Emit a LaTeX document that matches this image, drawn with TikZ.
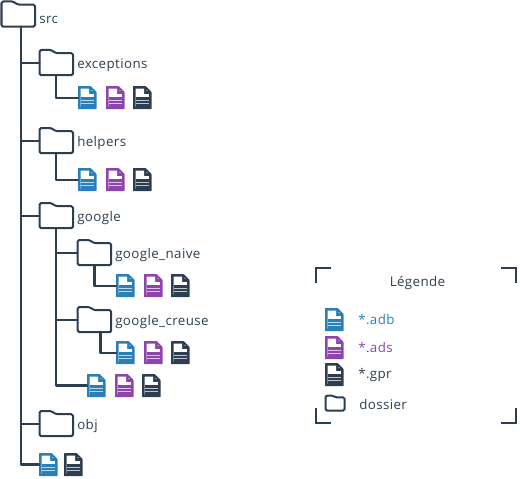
\documentclass[tikz,border=0pt]{standalone}
\usepackage{fontspec}
\setmainfont{Open Sans}[LetterSpace=3]
\definecolor{ink}{HTML}{2C3E50}
\definecolor{blu}{HTML}{2980B9}
\definecolor{pur}{HTML}{8E44AD}
\tikzset{
  conn/.style={draw=ink,line width=1.8pt,line cap=round,line join=round},
  branch/.style={draw=ink,line width=1.6pt,line cap=round,line join=round},
  folderbox/.style={inner sep=0pt,minimum width=24.75pt,minimum height=18.5pt,anchor=north west},
  legfolder/.style={inner sep=0pt,minimum width=14pt,minimum height=11pt,anchor=north west},
  filebox/.style={inner sep=0pt,minimum width=13.5pt,minimum height=17pt,anchor=north west},
  lab/.style={inner sep=0pt,anchor=west,text=ink,font=\fontsize{10pt}{11pt}\selectfont},
  crop/.style={draw=ink,line width=1.4pt}
}
\newcommand{\folderat}[5][folderbox]{%
  \node[#1] (#4) at (#2,#3) {};
  \draw[draw=ink,line width=1.5pt,line join=round,rounded corners=1.2pt]
    (#4.north west) -- ++(#5pt,0) -- ++(.33*#5pt,-.26*#5pt) -- ([yshift=-.26*#5pt]#4.north east)
    -- (#4.south east) -- (#4.south west) -- cycle;
}
\newcommand{\fileat}[4]{%
  \node[filebox] (#4) at (#1,#2) {};
  \fill[#3,rounded corners=.4pt] (#4.north west) -- ([xshift=-4.5pt]#4.north east) -- ([yshift=-4.5pt]#4.north east) -- (#4.south east) -- (#4.south west) -- cycle;
  \fill[white] ([shift={(2pt,-2pt)}]#4.north west) -- ([shift={(-5.6pt,-2pt)}]#4.north east) -- ([shift={(-5.6pt,-6pt)}]#4.north east) -- ([shift={(-2pt,-6pt)}]#4.north east) -- ([shift={(-2pt,2pt)}]#4.south east) -- ([shift={(2pt,2pt)}]#4.south west) -- cycle;
  \fill[#3] ([shift={(2pt,2pt)}]#4.south west) rectangle ([shift={(-2pt,9.2pt)}]#4.south east);
  \foreach \d in {4.4,6.8}
    \draw[white,line width=.4pt,opacity=.7] ([shift={(2pt,\d pt)}]#4.south west) -- ([shift={(-2pt,\d pt)}]#4.south east);
  \fill[white] ([shift={(-3.4pt,-3.3pt)}]#4.north east) circle (.4pt);
}
\begin{document}
\begin{tikzpicture}[x=.75pt,y=-.75pt]
\useasboundingbox (0,0) rectangle (520,478);
\folderat{1.5}{1.5}{src}{9}
\folderat{39.5}{50}{exceptions}{9}
\folderat{39.5}{128}{helpers}{9}
\folderat{39.5}{203}{google}{9}
\folderat{77.7}{240}{googlenaive}{9}
\folderat{77.7}{307}{googlecreuse}{9}
\folderat{39.5}{411}{obj}{9}
\fileat{78}{86}{blu}{ea}\fileat{106}{86}{pur}{eb}\fileat{133}{86}{ink}{ec}
\fileat{78}{168}{blu}{ha}\fileat{106}{168}{pur}{hb}\fileat{133}{168}{ink}{hc}
\fileat{116}{274}{blu}{na}\fileat{144}{274}{pur}{nb}\fileat{171}{274}{ink}{nc}
\fileat{116}{341}{blu}{ca}\fileat{144}{341}{pur}{cb}\fileat{171}{341}{ink}{cc}
\fileat{87}{374}{blu}{ga}\fileat{115}{374}{pur}{gb}\fileat{142}{374}{ink}{gc}
\fileat{39}{453}{blu}{ra}\fileat{64}{453}{ink}{rb}
\node[lab] (tsrc) at (39,20) {src};
\node[lab] (texc) at (77,65.5) {exceptions};
\node[lab] (thel) at (77,143.5) {helpers};
\node[lab] (tgoo) at (77,218.5) {google};
\node[lab] (tnai) at (115,255.5) {google\_naive};
\node[lab] (tcre) at (115,322.5) {google\_creuse};
\node[lab] (tobj) at (77,426) {obj};
\coordinate (srcstem) at ([xshift=2.25pt]src.south);
\draw[conn] (srcstem) -- (srcstem |- ra.west) -- (ra.west);
\draw[branch] (srcstem |- exceptions.west) -- (exceptions.west);
\draw[branch] (srcstem |- helpers.west) -- (helpers.west);
\draw[branch] (srcstem |- google.west) -- (google.west);
\draw[branch] (srcstem |- obj.west) -- (obj.west);
\draw[branch] (exceptions.south) |- (ea.west);
\draw[branch] (helpers.south) |- (ha.west);
\draw[conn] (google.south) |- (ga.west);
\draw[branch] (google.south |- googlenaive.west) -- (googlenaive.west);
\draw[branch] (google.south |- googlecreuse.west) -- (googlecreuse.west);
\draw[branch] (googlenaive.south) |- (na.west);
\coordinate (creusestem) at ([xshift=4.5pt]googlecreuse.south);
\draw[branch] (creusestem) |- (ca.west);
% legend
\draw[crop] (316,283) |- (331,268);
\draw[crop] (501,268) -| (516,283);
\draw[crop] (316,408) |- (331,423);
\draw[crop] (501,423) -| (516,408);
\node[lab] (tleg) at (389.5,283) {Légende};
\fileat{325}{308}{blu}{la}
\fileat{325}{336}{pur}{lb}
\fileat{325}{363}{ink}{lc}
\folderat[legfolder]{325.5}{395.5}{ld}{5.5}
\node[lab,text=blu] (t1) at (358,320) {*.adb};
\node[lab,text=pur] (t2) at (358,348) {*.ads};
\node[lab] (t3) at (358,375.5) {*.gpr};
\node[lab] (t4) at (359,404) {dossier};
\end{tikzpicture}
\end{document}
